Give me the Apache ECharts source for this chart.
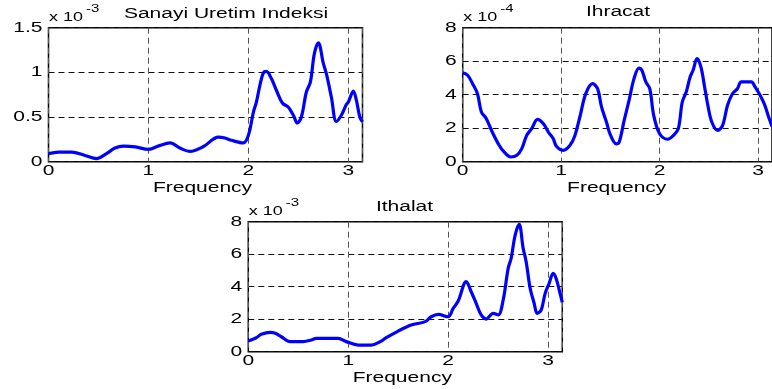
<!DOCTYPE html>
<html>
<head>
<meta charset="utf-8">
<script src="https://cdn.jsdelivr.net/npm/echarts@6/dist/echarts.min.js"></script>
<style>
  html, body { margin: 0; padding: 0; background: #fff; }
  #chart { width: 772px; height: 389px; }
</style>
</head>
<body>
<div id="chart"></div>
<script>
// Power spectra of three series; x is angular frequency (0..pi)

// Sanayi Uretim Indeksi, values in units of 1e-3
const sanayiFreq = [0, 0.1, 0.23, 0.365, 0.48, 0.58, 0.665, 0.75, 0.87, 1.0, 1.11, 1.215, 1.315, 1.415, 1.55,
  1.70, 1.765, 1.83, 1.95, 2.0, 2.05, 2.08, 2.115, 2.15, 2.18, 2.23, 2.28, 2.34, 2.40, 2.45, 2.49, 2.53,
  2.58, 2.62, 2.66, 2.70, 2.75, 2.78, 2.83, 2.88, 2.93, 2.98, 3.0, 3.05, 3.08, 3.115, 3.1416];
const sanayiVal = [0.09, 0.108, 0.108, 0.07, 0.035, 0.09, 0.153, 0.175, 0.165, 0.138, 0.18, 0.21, 0.153, 0.115, 0.17,
  0.275, 0.265, 0.24, 0.21, 0.295, 0.556, 0.668, 0.855, 0.996, 1.01, 0.93, 0.80, 0.657, 0.61, 0.52, 0.433, 0.50,
  0.78, 0.89, 1.21, 1.33, 1.10, 0.985, 0.724, 0.45, 0.52, 0.64, 0.668, 0.79, 0.69, 0.50, 0.445];

// Ihracat, values in units of 1e-4
const ihracatFreq = [0, 0.05, 0.10, 0.15, 0.19, 0.24, 0.30, 0.37, 0.42, 0.49, 0.55, 0.60, 0.65, 0.70, 0.76, 0.82,
  0.87, 0.92, 0.95, 1.02, 1.09, 1.14, 1.19, 1.25, 1.32, 1.37, 1.41, 1.46, 1.50, 1.56, 1.59, 1.64, 1.69, 1.74,
  1.79, 1.82, 1.86, 1.90, 1.94, 2.0, 2.08, 2.14, 2.19, 2.23, 2.27, 2.31, 2.34, 2.38, 2.42, 2.46, 2.49, 2.53,
  2.59, 2.64, 2.69, 2.74, 2.79, 2.83, 2.93, 2.97, 3.03, 3.07, 3.1, 3.1416];
const ihracatVal = [5.31, 5.16, 4.66, 4.06, 2.97, 2.57, 1.77, 0.98, 0.58, 0.28, 0.38, 0.78, 1.57, 1.97, 2.53, 2.27,
  1.77, 1.37, 0.94, 0.68, 0.98, 1.57, 2.67, 4.06, 4.66, 4.36, 3.27, 2.37, 1.6, 1.07, 1.18, 2.47, 3.67, 4.96,
  5.59, 5.46, 4.76, 4.36, 2.77, 1.67, 1.34, 1.57, 1.97, 3.56, 4.16, 5.06, 5.46, 6.15, 5.65, 4.36, 3.37, 2.37,
  1.87, 2.17, 3.37, 4.06, 4.36, 4.76, 4.76, 4.46, 3.86, 3.35, 2.8, 2.1];

// Ithalat, values in units of 1e-3
const ithalatFreq = [0, 0.08, 0.13, 0.22, 0.27, 0.33, 0.42, 0.55, 0.63, 0.68, 0.90, 0.98, 1.10, 1.23, 1.32, 1.38,
  1.50, 1.63, 1.77, 1.83, 1.90, 2.0, 2.05, 2.10, 2.18, 2.23, 2.28, 2.33, 2.38, 2.45, 2.50, 2.55, 2.60, 2.63,
  2.67, 2.71, 2.75, 2.78, 2.82, 2.86, 2.89, 2.93, 2.97, 3.01, 3.05, 3.08, 3.115, 3.1416];
const ithalatVal = [0.66, 0.86, 1.07, 1.19, 1.13, 0.92, 0.62, 0.62, 0.72, 0.82, 0.82, 0.62, 0.41, 0.41, 0.62, 0.86,
  1.27, 1.64, 1.85, 2.15, 2.30, 2.15, 2.67, 3.12, 4.31, 3.69, 2.98, 2.26, 2.01, 2.36, 2.26, 3.18, 5.13, 5.75,
  7.18, 7.84, 6.36, 5.54, 3.90, 2.98, 2.36, 2.56, 3.59, 4.21, 4.82, 4.51, 3.69, 3.04];

// Tick values
const xTicks = [0, 1, 2, 3];
const sanayiYTicks = [0, 0.5, 1, 1.5];
const ihracatYTicks = [0, 2, 4, 6, 8];
const ithalatYTicks = [0, 2, 4, 6, 8];

const titles = ['Sanayi Uretim Indeksi', 'Ihracat', 'Ithalat'];
const exponents = ['-3', '-4', '-3'];
const xName = 'Frequency';

// Plot boxes
const boxes = [
  { left: 48.5, top: 27.7, width: 314, height: 134 },
  { left: 462.7, top: 27.7, width: 314, height: 134 },
  { left: 248.3, top: 221.7, width: 314, height: 130 }
];
const yRanges = [
  { max: 1.5, interval: 0.5, ticks: sanayiYTicks },
  { max: 8, interval: 2, ticks: ihracatYTicks },
  { max: 8, interval: 2, ticks: ithalatYTicks }
];
const seriesData = [
  [sanayiFreq, sanayiVal],
  [ihracatFreq, ihracatVal],
  [ithalatFreq, ithalatVal]
];

const FONT = 'Liberation Sans, Arial, sans-serif';
const STRETCH = 1.5;

const chart = echarts.init(document.getElementById('chart'), null, { renderer: 'canvas' });

const option = {
  animation: false,
  backgroundColor: '#fff',
  grid: boxes.map(b => ({
    left: b.left, top: b.top, width: b.width, height: b.height,
    show: true, borderColor: '#000', borderWidth: 1.5, backgroundColor: 'transparent'
  })),
  xAxis: boxes.map((b, i) => ({
    type: 'value', gridIndex: i, min: 0, max: Math.PI, interval: 1,
    axisLine: { show: false }, axisTick: { show: false }, axisLabel: { show: false },
    splitLine: { show: true, lineStyle: { color: '#555', width: 1, type: [6, 4] } }
  })),
  yAxis: yRanges.map((r, i) => ({
    type: 'value', gridIndex: i, min: 0, max: r.max, interval: r.interval,
    axisLine: { show: false }, axisTick: { show: false }, axisLabel: { show: false },
    splitLine: { show: true, lineStyle: { color: '#111', width: 1, type: [6, 4] } }
  })),
  series: seriesData.map((d, i) => ({
    type: 'line', xAxisIndex: i, yAxisIndex: i,
    data: d[0].map((f, k) => [f, d[1][k]]),
    showSymbol: false, smooth: 0.35,
    lineStyle: { color: '#0000ff', width: 3.2 },
    z: 3
  }))
};
chart.setOption(option);

// Text is drawn horizontally widened, placed through each grid's own scales
function txt(text, x, y, size, align, vAlign) {
  return {
    type: 'text', x: x, y: y, scaleX: STRETCH, z: 10,
    style: { text: text, font: size + 'px ' + FONT, fill: '#000', align: align, verticalAlign: vAlign }
  };
}

const graphics = [];
boxes.forEach((b, i) => {
  const bottom = b.top + b.height;
  // x tick labels
  xTicks.forEach(v => {
    const p = chart.convertToPixel({ gridIndex: i }, [v, 0]);
    graphics.push(txt(String(v), p[0], bottom + 9.5, 14, 'center', 'middle'));
  });
  // y tick labels
  yRanges[i].ticks.forEach(v => {
    const p = chart.convertToPixel({ gridIndex: i }, [0, v]);
    graphics.push(txt(String(v), b.left - 6, p[1], 14, 'right', 'middle'));
  });
  // axis name
  graphics.push(txt(xName, b.left + b.width / 2 - 3, bottom + 26.5, 14, 'center', 'middle'));
  // exponent marker
  graphics.push(txt('x 10', b.left + 0.5, b.top - 10.5, 12, 'left', 'middle'));
  graphics.push(txt(exponents[i], b.left + 37.5, b.top - 18.5, 10, 'left', 'middle'));
});
// titles
graphics.push(txt(titles[0], 226, 14, 14, 'center', 'middle'));
graphics.push(txt(titles[1], 618, 12.5, 14, 'center', 'middle'));
graphics.push(txt(titles[2], 404.5, 207.5, 14, 'center', 'middle'));

chart.setOption({ graphic: graphics });
</script>
</body>
</html>
